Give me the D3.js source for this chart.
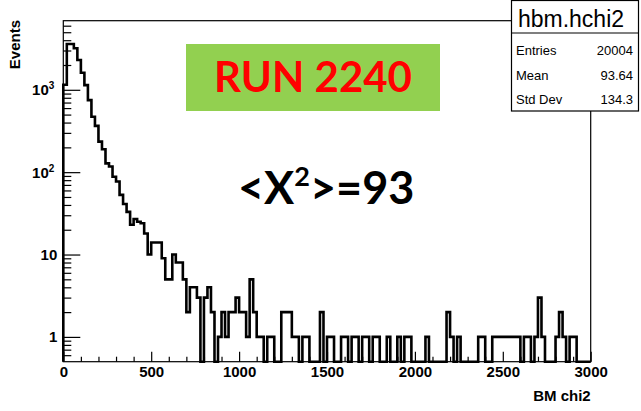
<!DOCTYPE html>
<html>
<head>
<meta charset="utf-8">
<script src="https://cdn.jsdelivr.net/npm/d3@7/dist/d3.min.js"></script>
<style>
  body { margin: 0; background: #fff; }
</style>
</head>
<body>
<svg id="chart" width="641" height="411" font-family="Liberation Sans, Arial, sans-serif"></svg>
<script>
// histogram hbm.hchi2 : 150 bins from 0 to 3000
const xLimits = [0, 3000];
const counts = [
  1150, 3600, 3600, 3200, 2300, 1610, 1140, 750, 470, 365,
  235, 190, 128, 117, 88, 77, 53, 41, 33, 23,
  27, 25, 24, 18, 10, 14, 14, 14, 9, 5,
  5, 10, 8, 8, 5, 2, 4, 4, 3, 0,
  3, 4, 2, 0, 1, 2, 1, 2, 2, 3,
  2, 2, 1, 5, 2, 1, 1, 0, 1, 1,
  0, 0, 2, 2, 2, 1, 1, 0, 1, 1,
  0, 0, 0, 2, 0, 1, 1, 0, 0, 1,
  1, 0, 1, 1, 0, 1, 1, 0, 1, 1,
  0, 0, 1, 0, 0, 1, 0, 1, 1, 0,
  0, 0, 0, 1, 0, 0, 0, 0, 0, 2,
  1, 0, 1, 0, 0, 0, 0, 0, 1, 1,
  0, 0, 1, 1, 1, 1, 1, 1, 1, 1,
  0, 1, 1, 0, 1, 3, 1, 0, 0, 0,
  1, 2, 1, 0, 1, 1, 0, 0, 0, 0
];
const yLimits = [0.5, 6900];
const xMajorTicks = [0, 500, 1000, 1500, 2000, 2500, 3000];
const xMinorTicks = d3.range(100, 3000, 100).filter(v => v % 500 !== 0);
const yMajorTicks = [1, 10, 100, 1000];
const yTickLabels = [["1", ""], ["10", ""], ["10", "2"], ["10", "3"]];
const yMinorTicks = [0.6, 0.7, 0.8, 0.9, 2, 3, 4, 5, 6, 7, 8, 9,
  20, 30, 40, 50, 60, 70, 80, 90, 200, 300, 400, 500, 600, 700, 800, 900,
  2000, 3000, 4000, 5000, 6000];
const histName = "hbm.hchi2";
const statNames = ["Entries", "Mean", "Std Dev"];
const statValues = ["20004", "93.64", "134.3"];
const xTitle = "BM chi2";
const yTitle = "Events";
const runLabel = "RUN 2240";
const meanLabel = ["<X", "2", ">=93"];

const svg = d3.select("#chart");
const frame = {left: 63.3, right: 590.7, top: 20.7, bottom: 361.7};

const x = d3.scaleLinear().domain(xLimits).range([frame.left, frame.right]);
const y = d3.scaleLog().domain(yLimits).range([frame.bottom, frame.top]);

// frame
svg.append("rect")
  .attr("x", frame.left).attr("y", frame.top)
  .attr("width", frame.right - frame.left).attr("height", frame.bottom - frame.top)
  .attr("fill", "none").attr("stroke", "#000").attr("stroke-width", 1.2);

// histogram outline, empty bins fall to the bottom of the frame
const binW = (xLimits[1] - xLimits[0]) / counts.length;
const pts = [[x(xLimits[0]), frame.bottom]];
counts.forEach((c, i) => {
  const yy = c > 0 ? y(c) : frame.bottom;
  pts.push([x(xLimits[0] + i * binW), yy]);
  pts.push([x(xLimits[0] + (i + 1) * binW), yy]);
});
pts.push([x(xLimits[1]), frame.bottom]);
svg.append("path")
  .attr("d", d3.line()(pts))
  .attr("fill", "none").attr("stroke", "#000")
  .attr("stroke-width", 2.6).attr("stroke-linejoin", "miter");

// x axis
const gx = svg.append("g").attr("transform", `translate(0,${frame.bottom})`);
gx.call(d3.axisBottom(x).tickValues(xMajorTicks).tickSize(-10).tickPadding(5).tickFormat(d3.format("d")));
gx.append("g").call(d3.axisBottom(x).tickValues(xMinorTicks).tickSize(-5).tickFormat(""));
gx.selectAll(".domain").remove();
gx.selectAll("line").attr("stroke", "#000").attr("stroke-width", 1.2);
gx.selectAll("text").attr("font-size", 15).attr("font-weight", "bold")
  .attr("font-family", "Liberation Sans, Arial, sans-serif").attr("fill", "#000");

// y axis
const gy = svg.append("g").attr("transform", `translate(${frame.left},0)`);
gy.call(d3.axisLeft(y).tickValues(yMajorTicks).tickSize(-17).tickFormat(""));
gy.append("g").call(d3.axisLeft(y).tickValues(yMinorTicks).tickSize(-8).tickFormat(""));
gy.selectAll(".domain").remove();
gy.selectAll("line").attr("stroke", "#000").attr("stroke-width", 1.2);
yMajorTicks.forEach((v, i) => {
  const t = gy.append("text")
    .attr("x", yTickLabels[i][1] ? -9 : -6).attr("y", y(v) + 5.5)
    .attr("text-anchor", "end").attr("fill", "#000")
    .attr("font-family", "Liberation Sans, Arial, sans-serif")
    .attr("font-size", 15).attr("font-weight", "bold");
  t.append("tspan").text(yTickLabels[i][0]);
  if (yTickLabels[i][1]) {
    t.append("tspan").attr("font-size", 10).attr("dy", -6).text(yTickLabels[i][1]);
  }
});

// axis titles
svg.append("text")
  .attr("transform", "translate(20,20) rotate(-90)")
  .attr("text-anchor", "end")
  .attr("font-size", 15).attr("font-weight", "bold")
  .text(yTitle);
svg.append("text")
  .attr("x", frame.right).attr("y", 401)
  .attr("text-anchor", "end")
  .attr("font-size", 15).attr("font-weight", "bold")
  .text(xTitle);

// stats box
const sb = svg.append("g");
sb.append("rect")
  .attr("x", 511.5).attr("y", 0.5).attr("width", 127).attr("height", 110.5)
  .attr("fill", "#fff").attr("stroke", "#000").attr("stroke-width", 1.2);
sb.append("line")
  .attr("x1", 511.5).attr("x2", 638.5).attr("y1", 33).attr("y2", 33)
  .attr("stroke", "#000").attr("stroke-width", 1.2);
sb.append("text")
  .attr("x", 571).attr("y", 27).attr("text-anchor", "middle")
  .attr("font-size", 23).text(histName);
statNames.forEach((name, i) => {
  const yy = 55 + i * 24.5;
  sb.append("text").attr("x", 516).attr("y", yy).attr("font-size", 13).text(name);
  sb.append("text").attr("x", 633).attr("y", yy).attr("text-anchor", "end")
    .attr("font-size", 13).text(statValues[i]);
});

// run annotation
svg.append("rect")
  .attr("x", 186).attr("y", 44).attr("width", 254).attr("height", 67)
  .attr("fill", "#92d050");
svg.append("text")
  .attr("x", 313).attr("y", 92).attr("text-anchor", "middle")
  .attr("font-family", "Lato, sans-serif").attr("font-weight", "bold")
  .attr("font-size", 42).attr("fill", "#ff0000")
  .text(runLabel);

const ml = svg.append("text")
  .attr("x", 238).attr("y", 204)
  .attr("font-family", "Lato, sans-serif").attr("font-weight", "bold")
  .attr("font-size", 45).attr("fill", "#000");
ml.append("tspan").text(meanLabel[0]);
ml.append("tspan").attr("font-size", 27).attr("dy", -18).text(meanLabel[1]);
ml.append("tspan").attr("dy", 18).text(meanLabel[2]);
</script>
</body>
</html>
